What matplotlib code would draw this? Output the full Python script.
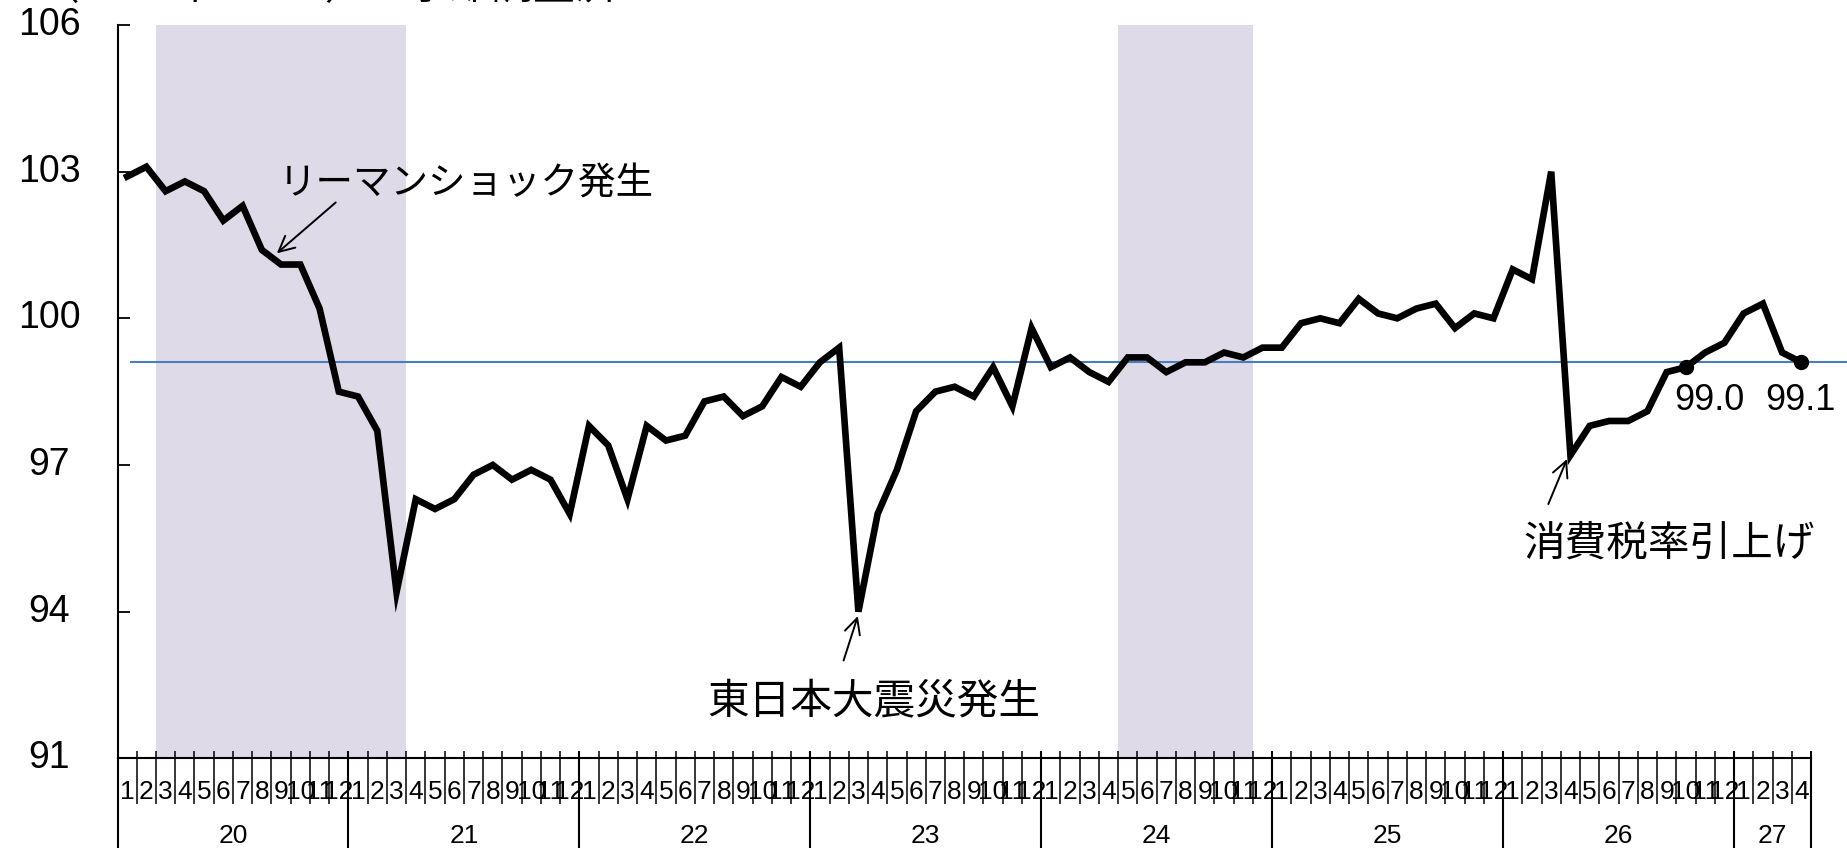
import matplotlib
matplotlib.use("Agg")
import matplotlib.pyplot as plt
from matplotlib.transforms import blended_transform_factory
import numpy as np

# ---------------- data ----------------
years = ["20", "21", "22", "23", "24", "25", "26", "27"]
months_per_year = [12, 12, 12, 12, 12, 12, 12, 4]
values = [
    102.9, 103.1, 102.6, 102.8, 102.6, 102.0, 102.3, 101.4, 101.1, 101.1, 100.2, 98.5,   # 20
    98.4, 97.7, 94.4, 96.3, 96.1, 96.3, 96.8, 97.0, 96.7, 96.9, 96.7, 96.0,              # 21
    97.8, 97.4, 96.3, 97.8, 97.5, 97.6, 98.3, 98.4, 98.0, 98.2, 98.8, 98.6,              # 22
    99.1, 99.4, 94.0, 96.0, 96.9, 98.1, 98.5, 98.6, 98.4, 99.0, 98.2, 99.8,              # 23
    99.0, 99.2, 98.9, 98.7, 99.2, 99.2, 98.9, 99.1, 99.1, 99.3, 99.2, 99.4,              # 24
    99.4, 99.9, 100.0, 99.9, 100.4, 100.1, 100.0, 100.2, 100.3, 99.8, 100.1, 100.0,      # 25
    101.0, 100.8, 103.0, 97.2, 97.8, 97.9, 97.9, 98.1, 98.9, 99.0, 99.3, 99.5,           # 26
    100.1, 100.3, 99.3, 99.1,                                                           # 27
]
month_labels = [str(m) for n in months_per_year for m in range(1, n + 1)]
recession_spans = [(2, 15), (52, 59)]     # month-index spans (start, end)
latest_level = 99.1
labeled_points = [(81, "99.0"), (87, "99.1")]
yticks = [91, 94, 97, 100, 103, 106]

# ---------------- figure ----------------
W, H = 1847, 848
fig = plt.figure(figsize=(W / 100, H / 100), dpi=100)
L, R, T, B = 117.5, 1811, 25, 758.3
ax = fig.add_axes([L / W, 1 - B / H, (R - L) / W, (B - T) / H])

n = len(values)
x = np.arange(n) + 0.5
ax.set_xlim(0, n)
ax.set_ylim(91, 106)

cjk = ["Noto Sans CJK JP", "DejaVu Sans"]
num = ["Liberation Sans", "DejaVu Sans"]
narrow = ["Liberation Sans Narrow", "Liberation Sans", "DejaVu Sans"]

for s, e in recession_spans:
    ax.axvspan(s, e, color="#dfdae8", lw=0, zorder=0)

# reference line
ax.plot([0.69, n + 2], [latest_level, latest_level], color="#4a7ebb", lw=1.5,
        zorder=2, clip_on=False)

ax.plot(x, values, color="black", lw=4.8, solid_joinstyle="miter", zorder=3)
for i, lab in labeled_points:
    ax.plot(x[i], values[i], "o", color="black", ms=10, zorder=4)

# spines
for sp in ["top", "right"]:
    ax.spines[sp].set_visible(False)
ax.spines["left"].set_linewidth(1.5)
ax.spines["bottom"].set_linewidth(1.5)

ax.set_yticks(yticks)
ax.tick_params(axis="y", direction="in", length=8.6, width=1.3, labelleft=False)
ax.set_xticks([])

# y tick labels centered at a fixed position
ty = blended_transform_factory(fig.transFigure, ax.transData)
for v in yticks:
    ax.text(49.5 / W, v, str(v), transform=ty, ha="center", va="center",
            fontsize=27, family=num, clip_on=False)

# x axis month/year structure
tb = blended_transform_factory(ax.transData, fig.transFigure)
y_top = 1 - 750.7 / H
y_mid = 1 - 804 / H
ax.vlines(np.arange(1, n), y_mid, y_top, transform=tb, color="black", lw=1.1,
          clip_on=False)
bounds = np.concatenate([[0], np.cumsum(months_per_year)])
ax.vlines(bounds[1:], 0, y_top, transform=tb, color="black", lw=1.5, clip_on=False)
ax.vlines([0], 0, 1 - B / H, transform=tb, color="black", lw=1.5, clip_on=False)

for xi, lab in zip(x, month_labels):
    ax.text(xi, 1 - 791.7 / H, lab, transform=tb, ha="center", va="center",
            fontsize=19, family=narrow, clip_on=False)
for k, yr in enumerate(years):
    ax.text((bounds[k] + bounds[k + 1]) / 2, 1 - 836 / H, yr, transform=tb,
            ha="center", va="center", fontsize=19, family=num, clip_on=False)

# annotations
ax.text(8.39, 102.75, "リーマンショック発生", fontsize=27, family=cjk,
        ha="left", va="center")
ax.text(30.64, 92.15, "東日本大震災発生", fontsize=30, family=cjk,
        ha="left", va="center")
ax.text(73.05, 95.38, "消費税率引上げ", fontsize=30, family=cjk,
        ha="left", va="center", clip_on=False)

arrows = [((11.34, 102.37), (8.28, 101.33)),
          ((37.73, 93.0), (38.47, 93.91)),
          ((74.35, 96.2), (75.32, 97.12))]
for tail, head in arrows:
    ax.annotate("", xy=head, xytext=tail,
                arrowprops=dict(arrowstyle="->", lw=1.4, color="black",
                                mutation_scale=28, shrinkA=0, shrinkB=0))

for (i, lab), xl in zip(labeled_points, [80.9, 85.6]):
    ax.text(xl, 98.32, lab, fontsize=26, family=num, ha="left", va="center",
            clip_on=False)

# clipped title at the very top
fig.text(38 / W, 1 - 8 / H, "（2010年＝100）　季節調整済", fontsize=30,
         family=cjk, ha="left", va="bottom")

fig.savefig("out.png", dpi=100)
